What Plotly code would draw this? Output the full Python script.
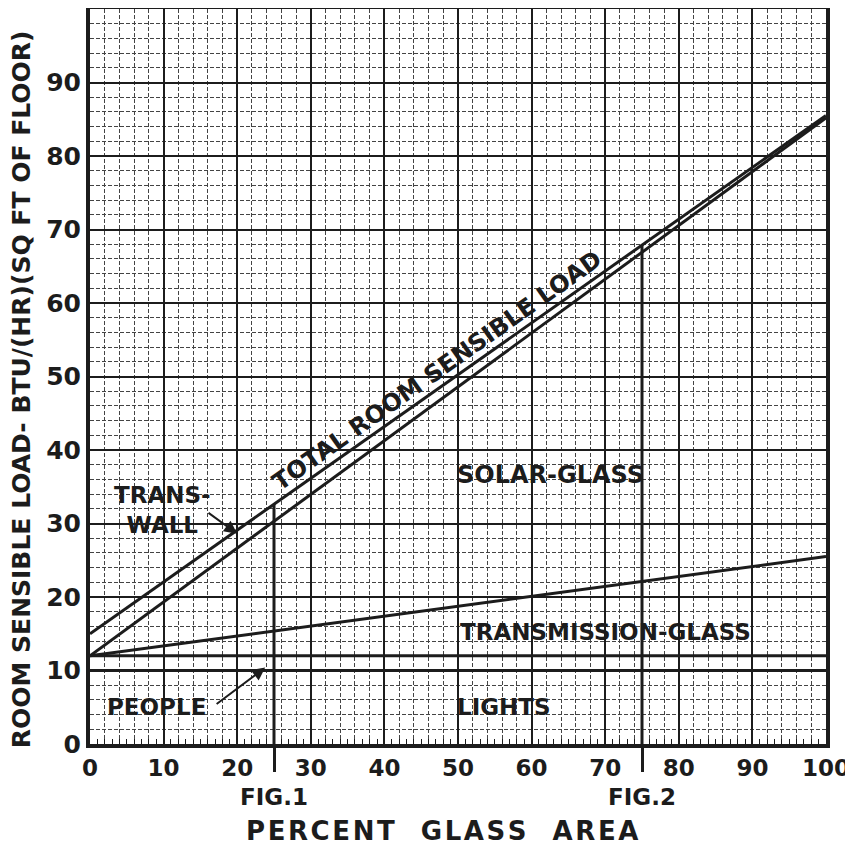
import numpy as np
import plotly.graph_objects as go

# ---- data ----
pct_glass = [0, 100]
lights = [10, 10]
people = [12, 12]            # lights + people
trans_glass = [12, 25.5]     # + transmission through glass
solar_glass = [12, 85.2]     # + solar through glass
total_load = [15, 85.5]      # total room sensible load (incl. trans-wall)
fig_marks = [25, 75]
fig_labels = ["FIG.1", "FIG.2"]
x_ticks = list(range(0, 101, 10))
y_ticks = list(range(0, 91, 10))

INK = "#1c1c1c"
FONT = "DejaVu Sans"

fig = go.Figure()

line_style = dict(color=INK, width=3)
for ys, name in [(lights, "Lights"), (people, "People"), (trans_glass, "Transmission-glass"),
                 (solar_glass, "Solar-glass"), (total_load, "Total")]:
    fig.add_trace(go.Scatter(x=pct_glass, y=ys, mode="lines", line=line_style,
                             name=name, showlegend=False, hoverinfo="skip"))

# FIG verticals up to the total-load line
tops = np.interp(fig_marks, pct_glass, total_load)
for xv, top in zip(fig_marks, tops):
    fig.add_trace(go.Scatter(x=[xv, xv], y=[0, top], mode="lines", line=line_style,
                             showlegend=False, hoverinfo="skip"))

# dummy traces to activate overlay axes
fig.add_trace(go.Scatter(x=[None], y=[None], xaxis="x2", showlegend=False))
fig.add_trace(go.Scatter(x=[None], y=[None], xaxis="x3", showlegend=False))

minor = dict(dtick=2, showgrid=True, gridcolor="#444", gridwidth=1, griddash="4px,2px")

# page body has an 8px margin, so the figure is drawn 8px smaller and offset
fig.update_layout(
    width=845, height=843,
    margin=dict(l=82, r=27, t=1, b=107, autoexpand=False),
    paper_bgcolor="white", plot_bgcolor="white",
    showlegend=False,
    xaxis=dict(range=[0, 100], tickvals=x_ticks, ticktext=["<b>%d</b>" % v for v in x_ticks],
               tickfont=dict(family=FONT, size=23, color=INK),
               showgrid=True, gridcolor=INK, gridwidth=2,
               showline=True, mirror=True, linecolor=INK, linewidth=4,
               ticks="", zeroline=False, automargin=False, minor=minor),
    xaxis2=dict(range=[0, 100], overlaying="x", anchor="y", side="bottom",
                dtick=1, ticks="inside", ticklen=5, tickwidth=1, tickcolor=INK,
                showticklabels=False, showgrid=False, zeroline=False, showline=False,
                automargin=False),
    xaxis3=dict(range=[0, 100], overlaying="x", anchor="y", side="bottom",
                tickvals=fig_marks, ticks="outside", ticklen=27, tickwidth=3, tickcolor=INK,
                showticklabels=False, showgrid=False, zeroline=False, showline=False,
                automargin=False),
    yaxis=dict(range=[0, 100], tickvals=y_ticks, ticktext=["<b>%d</b>" % v for v in y_ticks],
               tickfont=dict(family=FONT, size=25, color=INK),
               showgrid=True, gridcolor=INK, gridwidth=2,
               showline=True, mirror=True, linecolor=INK, linewidth=4,
               ticks="", zeroline=False, automargin=False, minor=minor),
)

lab = dict(family=FONT, size=23, color=INK)
ann = []
# FIG labels below the axis
for xv, t in zip(fig_marks, fig_labels):
    ann.append(dict(x=xv, y=-0.072, xref="x", yref="paper", text="<b>%s</b>" % t,
                    xanchor="center", yanchor="middle",
                    showarrow=False, font=dict(family=FONT, size=23, color=INK)))
# axis titles
ann.append(dict(x=0.478, y=-0.118, xref="paper", yref="paper",
                text="<b>P\u200aE\u200aR\u200aC\u200aE\u200aN\u200aT\u2003G\u200aL\u200aA\u200aS\u200aS\u2003A\u200aR\u200aE\u200aA</b>",
                xanchor="center", yanchor="middle",
                showarrow=False, font=dict(family=FONT, size=26, color=INK)))
ann.append(dict(x=-0.093, y=0.482, xref="paper", yref="paper",
                text="<b>ROOM SENSIBLE LOAD- BTU/(HR)(SQ FT OF FLOOR)</b>",
                xanchor="center", yanchor="middle",
                textangle=-90, showarrow=False, font=dict(family=FONT, size=25, color=INK)))
# region labels
ann.append(dict(x=47.1, y=50.8, text="<b>TOTAL ROOM SENSIBLE LOAD</b>", textangle=-35.2,
                showarrow=False, font=dict(family=FONT, size=24, color=INK)))
ann.append(dict(x=49.6, y=36.6, text="<b>SOLAR-GLASS</b>", xanchor="left",
                showarrow=False, font=dict(family=FONT, size=24, color=INK)))
ann.append(dict(x=50.0, y=15.3, text="<b>TRANSMISSION-GLASS</b>", xanchor="left",
                showarrow=False, font=dict(family=FONT, size=23, color=INK)))
ann.append(dict(x=49.6, y=5.0, text="<b>LIGHTS</b>", xanchor="left",
                showarrow=False, font=lab))
ann.append(dict(x=2.0, y=5.0, text="<b>PEOPLE</b>", xanchor="left",
                showarrow=False, font=lab))
ann.append(dict(x=9.9, y=31.8, text="<b>TRANS-<br>WALL</b>", align="center",
                showarrow=False, font=lab))
# arrows
ann.append(dict(x=23.8, y=10.4, ax=17.0, ay=5.3, axref="x", ayref="y", text="",
                showarrow=True, arrowhead=2, arrowsize=1.3, arrowwidth=2, arrowcolor=INK))
ann.append(dict(x=20.0, y=28.6, ax=15.9, ay=31.6, axref="x", ayref="y", text="",
                showarrow=True, arrowhead=2, arrowsize=1.3, arrowwidth=2, arrowcolor=INK))
fig.update_layout(annotations=ann)

fig.write_html("out.html")
